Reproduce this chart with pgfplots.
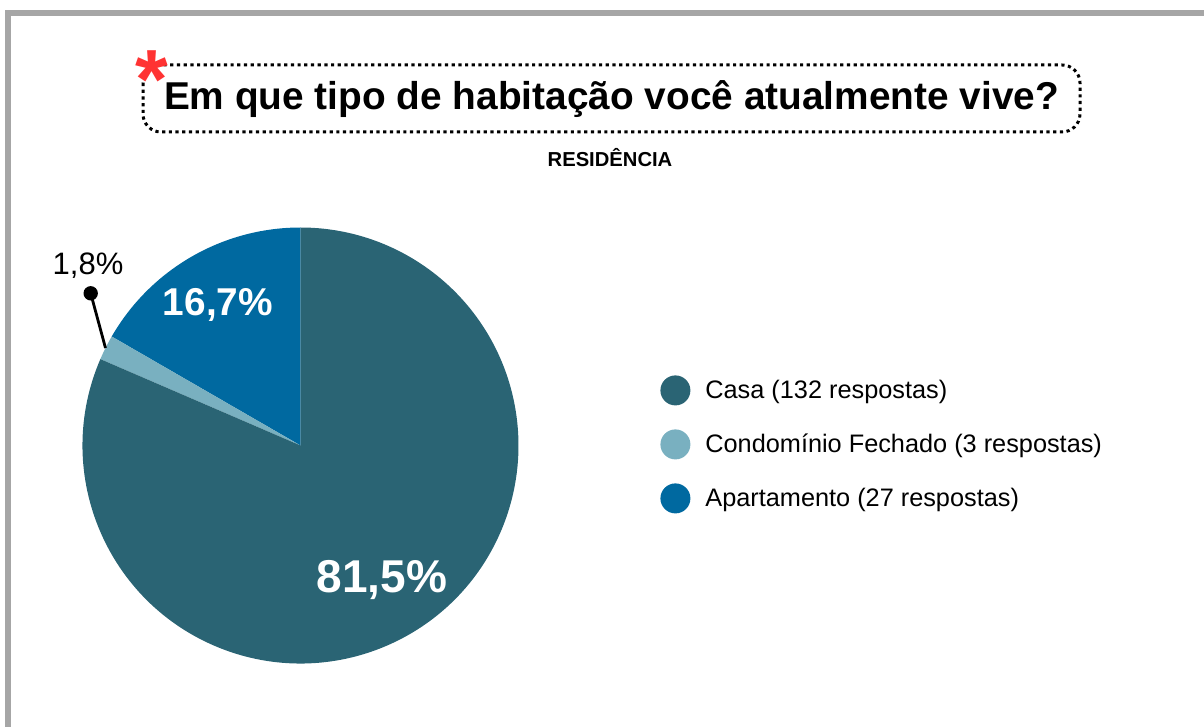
\documentclass[border=0pt]{standalone}
\usepackage{pgfplots}
\pgfplotsset{compat=1.18}
\usepackage{fontspec}
\setmainfont{Liberation Sans}
\definecolor{casa}{RGB}{42,100,116}
\definecolor{condo}{RGB}{121,176,192}
\definecolor{apto}{RGB}{0,105,160}
\definecolor{framegray}{RGB}{166,166,166}
\definecolor{starred}{RGB}{255,51,51}
\begin{document}
\begin{tikzpicture}
% data: number of answers
\pgfmathsetmacro{\nCasa}{132}
\pgfmathsetmacro{\nCondo}{3}
\pgfmathsetmacro{\nApto}{27}
\pgfmathsetmacro{\nTot}{\nCasa+\nCondo+\nApto}
\pgfmathsetmacro{\aA}{90}
\pgfmathsetmacro{\aB}{\aA+\nApto/\nTot*360}
\pgfmathsetmacro{\aC}{\aB+\nCondo/\nTot*360}
\pgfmathsetmacro{\aD}{\aA+360}
\begin{axis}[
  x=0.5pt, y=0.5pt,
  xmin=0, xmax=1204, ymin=0, ymax=727,
  y dir=reverse,
  hide axis, clip=false, scale only axis,
  legend style={at={(axis cs:660,375)}, anchor=north west, draw=none, fill=none,
    inner sep=0pt, row sep=12pt,
    font=\fontsize{12.65}{15}\selectfont,
    nodes={inner sep=0pt},
    /tikz/column 1/.style={column sep=7.5pt}},
  legend cell align=left,
  legend image code/.code={\fill[#1] (7.5pt,0pt) circle (7.5pt);},
]
\path (axis cs:0,0) rectangle (axis cs:1204,727);
% frame
\fill[framegray] (axis cs:5,10) rectangle (axis cs:1204,16);
\fill[framegray] (axis cs:5,10) rectangle (axis cs:11,727);
% pie
\fill[apto] (axis cs:300.5,445.5) -- ++(\aA:109pt) arc[start angle=\aA, end angle=\aB, radius=109pt] -- cycle;
\fill[condo] (axis cs:300.5,445.5) -- ++(\aB:109pt) arc[start angle=\aB, end angle=\aC, radius=109pt] -- cycle;
\fill[casa] (axis cs:300.5,445.5) -- ++(\aC:109pt) arc[start angle=\aC, end angle=\aD, radius=109pt] -- cycle;
% labels
\node[anchor=base, text=white, font=\bfseries\fontsize{19.4}{23}\selectfont] at (axis cs:218,315) {16,7\%};
\node[anchor=base, text=white, font=\bfseries\fontsize{23}{27}\selectfont] at (axis cs:382,592) {81,5\%};
\node[anchor=base, font=\fontsize{15.5}{18}\selectfont] at (axis cs:88,275) {1,8\%};
\draw[line width=1.4pt] (axis cs:105.5,348) -- (axis cs:90.7,293.3);
\fill (axis cs:90.7,293.3) circle (3.6pt);
% title
\draw[line width=1.5pt, dash pattern=on 1.6pt off 1.75pt, rounded corners=9pt] (axis cs:143,65) rectangle (axis cs:1080,132);
\node[anchor=base, font=\bfseries\fontsize{19.4}{23}\selectfont] at (axis cs:611.5,110) {Em que tipo de habitação você atualmente vive?};
\node[anchor=base, text=starred, font=\bfseries\fontsize{42}{42}\selectfont] at (axis cs:152,109) {*};
\node[anchor=base, font=\bfseries\fontsize{10.1}{12}\selectfont] at (axis cs:610,167) {RESIDÊNCIA};
% legend
\addlegendimage{fill=casa, draw=none}
\addlegendentry{Casa (132 respostas)}
\addlegendimage{fill=condo, draw=none}
\addlegendentry{Condomínio Fechado (3 respostas)}
\addlegendimage{fill=apto, draw=none}
\addlegendentry{Apartamento (27 respostas)}
\end{axis}
\end{tikzpicture}
\end{document}
